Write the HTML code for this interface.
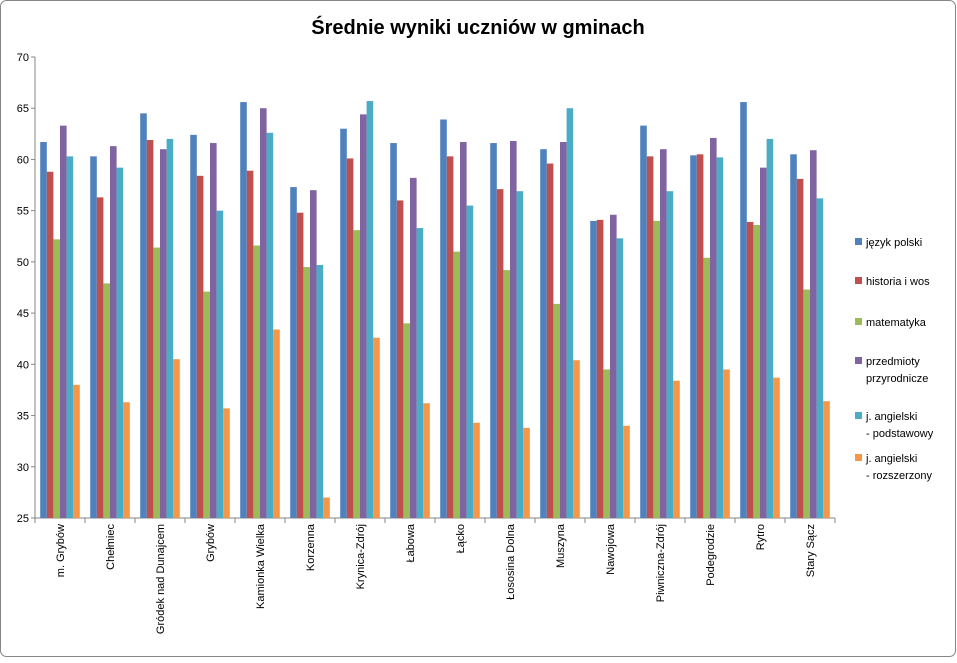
<!DOCTYPE html>
<html><head><meta charset="utf-8"><style>
body{margin:0;background:#fff;}
svg text{font-family:"Liberation Sans","DejaVu Sans",sans-serif;}
</style></head><body>
<svg id="chart" width="957" height="658" xmlns="http://www.w3.org/2000/svg">
<rect x="0.5" y="0.5" width="955" height="656" rx="6" fill="#fff" stroke="#868686"/>
<text x="478" y="34" text-anchor="middle" font-size="20" font-weight="bold">Średnie wyniki uczniów w gminach</text>
<g id="axes"></g><g id="bars"></g><g id="legend"></g>
</svg>
<script>
const categories=["m. Grybów","Chełmiec","Gródek nad Dunajcem","Grybów","Kamionka Wielka","Korzenna","Krynica-Zdrój","Łabowa","Łącko","Łososina Dolna","Muszyna","Nawojowa","Piwniczna-Zdrój","Podegrodzie","Rytro","Stary Sącz"];
const seriesNames=[["język polski"],["historia i wos"],["matematyka"],["przedmioty","przyrodnicze"],["j. angielski","- podstawowy"],["j. angielski","- rozszerzony"]];
const polski=[61.7,60.3,64.5,62.4,65.6,57.3,63.0,61.6,63.9,61.6,61.0,54.0,63.3,60.4,65.6,60.5];
const historia=[58.8,56.3,61.9,58.4,58.9,54.8,60.1,56.0,60.3,57.1,59.6,54.1,60.3,60.5,53.9,58.1];
const matematyka=[52.2,47.9,51.4,47.1,51.6,49.5,53.1,44.0,51.0,49.2,45.9,39.5,54.0,50.4,53.6,47.3];
const przyroda=[63.3,61.3,61.0,61.6,65.0,57.0,64.4,58.2,61.7,61.8,61.7,54.6,61.0,62.1,59.2,60.9];
const angPodst=[60.3,59.2,62.0,55.0,62.6,49.7,65.7,53.3,55.5,56.9,65.0,52.3,56.9,60.2,62.0,56.2];
const angRozsz=[38.0,36.3,40.5,35.7,43.4,27.0,42.6,36.2,34.3,33.8,40.4,34.0,38.4,39.5,38.7,36.4];
const yTicks=[25,30,35,40,45,50,55,60,65,70];
const series=[polski,historia,matematyka,przyroda,angPodst,angRozsz];
const colors=["#4F81BD","#C0504D","#9BBB59","#8064A2","#4BACC6","#F79646"];
const NS="http://www.w3.org/2000/svg";
const X0=35,X1=835,Y0=518,Y1=57,ymin=25,ymax=70;
const y=v=>Y0-(v-ymin)/(ymax-ymin)*(Y0-Y1);
const gw=(X1-X0)/categories.length;
const x=i=>X0+i*gw;
function mk(tag,attrs,parent){const e=document.createElementNS(NS,tag);for(const k in attrs)e.setAttribute(k,attrs[k]);parent.appendChild(e);return e;}
const axes=document.getElementById('axes'),bars=document.getElementById('bars'),legend=document.getElementById('legend');
yTicks.forEach(t=>{
 const l=mk('line',{x1:X0-4,x2:X0,y1:y(t),y2:y(t),stroke:'#868686'},axes);
 
 
 const tx=mk('text',{x:X0-6,y:y(t)+4,'text-anchor':'end','font-size':11},axes);tx.textContent=t;
 
 
});
const ya=mk('line',{x1:X0,x2:X0,y1:Y1,y2:Y0,stroke:'#868686'},axes);


const xa=mk('line',{x1:X0,x2:X1,y1:Y0,y2:Y0,stroke:'#868686'},axes);


for(let i=0;i<=categories.length;i++){
 const l=mk('line',{x1:x(i),x2:x(i),y1:Y0,y2:Y0+5,stroke:'#868686'},axes);
 
 
}
categories.forEach((c,i)=>{
 const cx=x(i)+gw/2+4;
 const t=mk('text',{x:0,y:0,transform:`translate(${cx},524) rotate(-90)`,'text-anchor':'end','font-size':11},axes);
 t.textContent=c;
 
 
});
const bw=6.6,pad=(gw-bw*6)/2;
series.forEach((s,k)=>{
 s.forEach((v,i)=>{
  const r=mk('rect',{x:x(i)+pad+k*bw,y:y(v),width:bw,height:Y0-y(v),fill:colors[k]},bars);
  
  
 });
});
const ly=[241,280,321,360,415,457];
seriesNames.forEach((n,k)=>{
 const r=mk('rect',{x:855,y:ly[k]-3,width:7,height:7,fill:colors[k]},legend);
 
 
 n.forEach((line,j)=>{
  const t=mk('text',{x:866,y:ly[k]+5+j*17,'font-size':11},legend);t.textContent=line;
  
  
 });
});
</script>
</body></html>
